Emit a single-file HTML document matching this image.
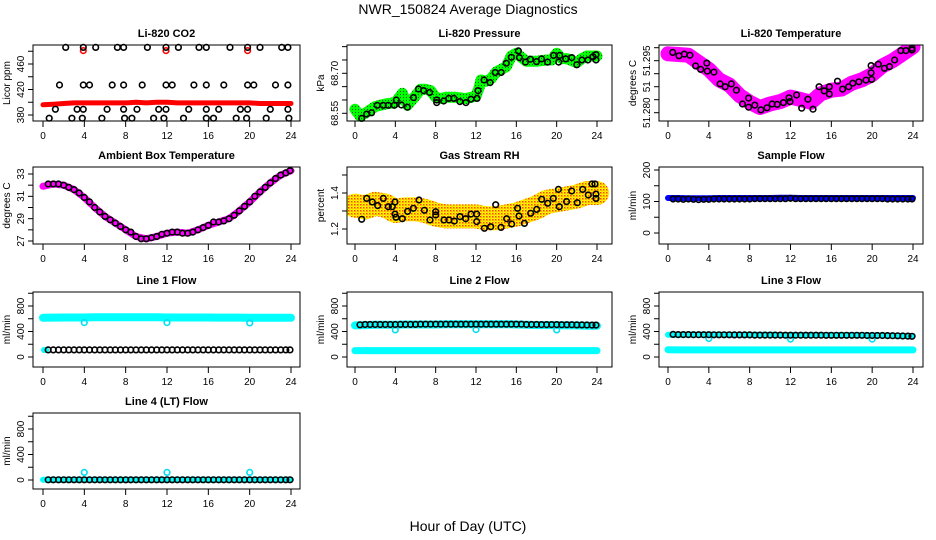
<!DOCTYPE html>
<html><head><meta charset="utf-8"><title>NWR_150824 Average Diagnostics</title>
<style>
html,body{margin:0;padding:0;background:#fff;}
svg{display:block;font-family:"Liberation Sans",sans-serif;}
</style></head>
<body>
<svg id="chart" width="936" height="540" viewBox="0 0 936 540" xmlns="http://www.w3.org/2000/svg">
<defs>
<pattern id="greenPat" width="3" height="3" patternUnits="userSpaceOnUse"><rect width="3" height="3" fill="#00ff00"/><rect x="1" y="1" width="1" height="1" fill="#0a5a0a"/></pattern>
<pattern id="yellowPat" width="3" height="3" patternUnits="userSpaceOnUse"><rect width="3" height="3" fill="#ffff00"/><rect x="0" y="0" width="1.5" height="1.5" fill="#ff4000"/><rect x="1.5" y="1.5" width="1" height="1" fill="#ff9000"/></pattern>
</defs>
<text x="468" y="14" text-anchor="middle" font-size="14">NWR_150824  Average Diagnostics</text>
<text x="468" y="531" text-anchor="middle" font-size="14">Hour of Day (UTC)</text>
</svg>
<script>
// ---------- shared categories ----------
const xTicks = [0,4,8,12,16,20,24];
const hours = [0,1,2,3,4,5,6,7,8,9,10,11,12,13,14,15,16,17,18,19,20,21,22,23,24];
const halfHours = [0.5,1,1.5,2,2.5,3,3.5,4,4.5,5,5.5,6,6.5,7,7.5,8,8.5,9,9.5,10,10.5,11,11.5,12,12.5,13,13.5,14,14.5,15,15.5,16,16.5,17,17.5,18,18.5,19,19.5,20,20.5,21,21.5,22,22.5,23,23.5,23.9];

// ---------- Li-820 CO2 ----------
const co2BlkT = [2.2,3.9,5.1,7.2,7.8,10.1,11.9,13.1,15.1,15.8,18.1,19.8,21.0,23.1,23.7, 1.6,3.9,4.5,6.7,7.8,9.6,11.9,12.5,14.6,15.8,17.5,19.8,20.4,22.5,23.7, 1.2,3.3,3.9,6.2,7.8,9.1,11.2,11.9,14.1,15.8,17.0,19.1,19.8,22.0,23.7, 0.6,2.8,3.8,5.7,7.9,8.6,10.7,11.7,13.6,15.8,16.5,18.7,19.7,21.6,23.8];
const co2BlkV = [486,486,486,486,486,486,486,486,486,486,486,486,486,486,486, 427,427,427,427,427,427,427,427,427,427,427,427,427,427,427, 389,389,389,389,389,389,389,389,389,389,389,389,389,389,389, 375,375,375,375,375,375,375,375,375,375,375,375,375,375,375];
const co2RedV = [396,397,398,399,399,399,399,399,399,400,399,400,400,399,399,399,399,399,399,399,399,398,398,398,398];
const co2OutT = [3.9,11.9,19.8];
const co2OutV = [481,481,481];

// ---------- Li-820 Pressure ----------
const presBandT = [0,0.5,1,2,3,4,4.7,5.2,6,6.5,7,7.5,8,8.5,9,10,11,11.5,12,12.3,12.5,13,13.5,14,15,15.5,16,16.5,17,18,19,19.5,20,20.5,21,22,22.5,23,24];
const presBandV = [68.565,68.54,68.55,68.575,68.585,68.59,68.625,68.58,68.615,68.64,68.64,68.635,68.61,68.605,68.61,68.61,68.605,68.61,68.615,68.645,68.675,68.67,68.68,68.705,68.725,68.765,68.775,68.76,68.745,68.745,68.75,68.75,68.775,68.755,68.755,68.74,68.755,68.765,68.765];
const presBlkT = [0.66,1.16,1.65,2.2,2.8,3.3,3.9,4.1,4.6,5.2,5.8,6.3,6.8,7.4,8.1,8.1,8.8,9.3,9.8,10.4,11.0,11.5,12.1,12.2,12.8,13.4,13.9,14.5,15.0,15.5,16.2,16.3,16.9,17.4,18.0,18.5,19.1,19.7,20.2,20.3,20.9,21.5,22.0,22.5,23.1,23.6,23.9,23.9];
const presBlkV = [68.531,68.547,68.552,68.58,68.58,68.58,68.58,68.60,68.581,68.573,68.609,68.641,68.635,68.628,68.60,68.59,68.596,68.606,68.606,68.594,68.59,68.603,68.606,68.635,68.675,68.665,68.703,68.703,68.738,68.76,68.784,68.759,68.742,68.753,68.744,68.754,68.742,68.767,68.742,68.767,68.754,68.759,68.732,68.75,68.75,68.762,68.770,68.750];

// ---------- Li-820 Temperature ----------
const tempBandV = [51.2970,51.2968,51.2966,51.2945,51.2925,51.2895,51.2880,51.2850,51.2830,51.2815,51.2825,51.2832,51.2845,51.2838,51.2830,51.2855,51.2865,51.2868,51.2885,51.2895,51.2910,51.2935,51.2950,51.2970,51.2990];
const tempBlkT = [0.46,1.08,1.6,2.15,2.7,3.2,3.8,3.85,4.5,5.1,5.6,6.2,6.7,7.3,7.9,7.9,8.5,9.1,9.7,10.2,10.7,11.3,11.85,11.95,12.6,13.1,13.7,14.2,14.8,15.3,15.8,15.8,16.6,17.1,17.7,18.1,18.7,19.4,19.95,19.9,19.9,20.6,21.2,21.7,22.2,22.8,23.3,23.9,23.9];
const tempBlkV = [51.2974,51.2964,51.2969,51.2966,51.2935,51.2925,51.2943,51.2920,51.2917,51.2883,51.2875,51.2883,51.2865,51.2825,51.2842,51.2816,51.2822,51.2808,51.2814,51.2825,51.2824,51.2829,51.2843,51.2832,51.2851,51.2813,51.2839,51.2810,51.2875,51.2863,51.2875,51.2854,51.2891,51.2868,51.2875,51.2885,51.2889,51.2894,51.2896,51.2915,51.2936,51.2940,51.2928,51.2933,51.2952,51.2979,51.2979,51.2986,51.2981];

// ---------- Ambient Box Temperature ----------
const ambBandV = [31.9,32.1,32.0,31.6,30.9,30.0,29.2,28.6,28.0,27.4,27.2,27.4,27.7,27.8,27.7,28.0,28.4,28.7,29.0,29.7,30.5,31.4,32.2,32.9,33.3];
const ambBlkV = [32.1,32.1,32.1,32.0,31.8,31.6,31.3,30.9,30.5,30.0,29.6,29.2,28.9,28.6,28.3,28.0,27.8,27.4,27.2,27.2,27.3,27.4,27.6,27.7,27.8,27.8,27.7,27.7,27.8,28.0,28.2,28.4,28.7,28.7,28.8,29.0,29.3,29.7,30.1,30.5,31.0,31.4,31.8,32.2,32.6,32.9,33.1,33.3];

// ---------- Gas Stream RH ----------
const rhBandV = [1.33,1.32,1.34,1.33,1.30,1.31,1.31,1.30,1.28,1.27,1.27,1.27,1.27,1.26,1.26,1.27,1.28,1.30,1.32,1.35,1.36,1.37,1.38,1.40,1.40];
const rhBlkT = [0.66,1.16,1.72,2.25,2.81,3.3,3.7,3.97,3.97,4.07,4.69,5.22,5.79,6.35,6.88,7.44,8.0,8.0,8.83,9.32,9.85,10.41,10.98,11.5,12.07,12.07,12.83,13.46,13.95,14.48,15.04,15.54,16.13,16.26,16.8,17.42,18.02,18.52,19.11,19.67,20.17,20.26,20.99,21.49,22.05,22.58,23.14,23.5,23.8,23.9,23.9];
const rhBlkV = [1.254,1.370,1.350,1.330,1.370,1.324,1.324,1.350,1.283,1.265,1.257,1.298,1.315,1.361,1.304,1.250,1.296,1.278,1.250,1.250,1.244,1.269,1.257,1.283,1.283,1.241,1.204,1.213,1.335,1.209,1.257,1.228,1.315,1.272,1.231,1.287,1.309,1.365,1.343,1.370,1.420,1.324,1.352,1.411,1.346,1.420,1.389,1.450,1.450,1.370,1.394];

// ---------- Sample Flow ----------
const sampBandV = [111,111,110,110,110,111,111,111,111,111,111,112,112,111,111,111,111,111,111,111,111,111,111,111,111];
const sampBlkV = [108,108,107,108,107,106,107,107,108,108,108,108,108,108,108,108,109,109,109,109,109,109,109,110,109,109,109,109,109,109,109,109,109,109,109,109,109,109,109,109,109,109,108,108,108,108,108,108];

// ---------- Line flows ----------
const l1CyanHiV = [615,618,620,620,620,622,622,622,622,622,622,622,620,620,620,620,620,618,618,618,616,616,615,615,615];
const l1CyanLoT = [0.1,0.3];
const l1CyanLoV = [110,110];
const l1BlkV = [112,112,112,112,112,112,112,112,112,112,112,112,112,112,112,112,112,112,112,112,112,112,112,112,112,112,112,112,112,112,112,112,112,112,112,112,112,112,112,112,112,112,112,112,112,112,112,112];
const l1OutT = [4,12,20];
const l1OutV = [540,540,535];

const l2CyanHiV = [495,500,505,505,505,510,510,510,510,515,515,515,515,515,515,515,510,505,500,500,500,495,495,490,490];
const l2CyanLoV = [100,100,100,100,100,100,100,100,100,100,100,100,100,100,100,100,100,100,100,100,100,100,100,100,100];
const l2BlkV = [505,510,510,510,510,510,510,510,512,512,512,512,514,514,514,514,514,514,514,514,514,514,514,515,514,514,514,514,514,514,514,514,514,510,510,510,508,508,508,508,506,506,506,504,504,502,500,500];
const l2OutT = [4,12,20];
const l2OutV = [425,430,425];

const l3CyanHiV = [350,350,352,352,352,352,350,350,350,348,348,345,345,345,345,345,345,345,345,342,340,338,335,330,330];
const l3CyanLoV = [115,112,112,112,112,112,112,112,112,112,112,112,112,112,112,112,112,112,112,112,112,112,112,112,112];
const l3BlkV = [355,352,352,352,350,350,350,350,348,348,348,348,346,346,346,346,344,344,344,344,344,344,342,342,342,342,342,342,342,342,340,340,340,340,340,340,340,340,338,338,338,338,336,334,332,330,328,325];
const l3OutT = [4,12,20];
const l3OutV = [290,280,280];

const l4CyanV = [5,5,5,5,5,5,5,5,5,5,5,5,5,5,5,5,5,5,5,5,5,5,5,5,5];
const l4BlkV = [3,3,3,3,3,3,3,3,3,3,3,3,3,3,3,3,3,3,3,3,3,3,3,3,3,3,3,3,3,3,3,3,3,3,3,3,3,3,3,3,3,3,3,3,3,3,3,3];
const l4OutT = [4,12,20];
const l4OutV = [120,120,120];

// ---------- tick values ----------
const co2Ticks = [380,400,420,440,460,480];
const co2Labels = ["380","","420","","460",""];
const presTicks = [68.55,68.60,68.65,68.70,68.75,68.80];
const presLabels = ["68.55","","","68.70","",""];
const tempTicks = [51.280,51.28375,51.2875,51.29125,51.295,51.29875];
const tempLabels = ["51.280","","51","","51.295",""];
const ambTicks = [27,28,29,30,31,32,33];
const ambLabels = ["27","","29","","31","","33"];
const rhTicks = [1.2,1.3,1.4,1.5];
const rhLabels = ["1.2","","1.4",""];
const sampTicks = [0,50,100,150,200];
const sampLabels = ["0","","100","","200"];
const flowTicks = [0,200,400,600,800,1000];
const flowLabels = ["0","","400","","800",""];

// ---------- layout ----------
const SVGNS = "http://www.w3.org/2000/svg";
const svg = document.getElementById('chart');
const cols = [{bl:33,br:300,x0:43,x24:291},{bl:347,br:612,x0:355,x24:597},{bl:659,br:923,x0:668,x24:913}];
const rows = [{bt:45,bb:121},{bt:167,bb:244},{bt:292,bb:367},{bt:413,bb:489}];

function mk(tag, parent){ const e=document.createElementNS(SVGNS,tag); parent.appendChild(e); return e; }
function pts(ts,vs,sx,sy){ return ts.map((t,i)=>sx(t).toFixed(1)+','+sy(vs[i]).toFixed(1)).join(' '); }

function band(g,ts,vs,sx,sy,color,w,name){
  const p=mk('polyline',g);
  
  
  p.setAttribute('points',pts(ts,vs,sx,sy));
  p.setAttribute('fill','none'); p.setAttribute('stroke',color);
  p.setAttribute('stroke-width',w); p.setAttribute('stroke-linecap','round'); p.setAttribute('stroke-linejoin','round');
}
function circles(g,ts,vs,sx,sy,color,name){
  ts.forEach((t,i)=>{
    const c=mk('circle',g);
    
    
    c.setAttribute('cx',sx(t).toFixed(1)); c.setAttribute('cy',sy(vs[i]).toFixed(1));
    c.setAttribute('r',2.8); c.setAttribute('fill','none'); c.setAttribute('stroke',color); c.setAttribute('stroke-width',1.6);
  });
}

let pid=0;
function panel(name,ci,ri,title,ylab,v0,p0,v1,p1,ticks,labels,drawBands,drawPoints){
  const C=cols[ci], R=rows[ri];
  const sx=t=>C.x0+(C.x24-C.x0)*t/24;
  const sy=v=>p0+(p1-p0)*(v-v0)/(v1-v0);
  const g=mk('g',svg);
  
  
  const clipId='clip'+(pid++);
  const cp=mk('clipPath',g); cp.setAttribute('id',clipId);
  const cr=mk('rect',cp); cr.setAttribute('x',C.bl); cr.setAttribute('y',R.bt); cr.setAttribute('width',C.br-C.bl); cr.setAttribute('height',R.bb-R.bt);
  const tt=mk('text',g);
  
  
  tt.setAttribute('x',(C.bl+C.br)/2); tt.setAttribute('y',R.bt-8); tt.setAttribute('text-anchor','middle');
  tt.setAttribute('font-size','11'); tt.setAttribute('font-weight','bold'); tt.textContent=title;
  const yl=mk('text',g);
  
  
  const ym=(R.bt+R.bb)/2;
  yl.setAttribute('transform','translate('+(C.bl-23)+','+ym+') rotate(-90)'); yl.setAttribute('text-anchor','middle');
  yl.setAttribute('font-size','10'); yl.textContent=ylab;
  const data=mk('g',g); data.setAttribute('clip-path','url(#'+clipId+')');
  
  
  drawBands(data,sx,sy);
  const pg=mk('g',g);
  
  
  drawPoints(pg,sx,sy);
  const box=mk('rect',g);
  
  
  box.setAttribute('x',C.bl); box.setAttribute('y',R.bt); box.setAttribute('width',C.br-C.bl); box.setAttribute('height',R.bb-R.bt);
  box.setAttribute('fill','none'); box.setAttribute('stroke','#000'); box.setAttribute('stroke-width',1);
  ticks.forEach((v,i)=>{
    const y=sy(v); if(y<R.bt-1||y>R.bb+1) return;
    const l=mk('line',g);
    
    
    l.setAttribute('x1',C.bl-5); l.setAttribute('x2',C.bl); l.setAttribute('y1',y); l.setAttribute('y2',y); l.setAttribute('stroke','#000');
    if(labels[i]){
      const t=mk('text',g);
      
      
      t.setAttribute('transform','translate('+(C.bl-9)+','+y+') rotate(-90)'); t.setAttribute('text-anchor','middle');
      t.setAttribute('font-size','10'); t.textContent=labels[i];
    }
  });
  xTicks.forEach(v=>{
    const x=sx(v);
    const l=mk('line',g);
    
    
    l.setAttribute('x1',x); l.setAttribute('x2',x); l.setAttribute('y1',R.bb); l.setAttribute('y2',R.bb+6); l.setAttribute('stroke','#000');
    const t=mk('text',g);
    
    
    t.setAttribute('x',x); t.setAttribute('y',R.bb+18); t.setAttribute('text-anchor','middle'); t.setAttribute('font-size','10');
    t.textContent=String(v);
  });
}

panel('co2-panel',0,0,'Li-820 CO2','Licor ppm',380,115,460,64,co2Ticks,co2Labels,(g,sx,sy)=>{
  band(g,hours,co2RedV,sx,sy,'#ff0000',5,'co2-red-band');
},(g,sx,sy)=>{
  circles(g,co2OutT,co2OutV,sx,sy,'#ff0000','co2-red-outlier');
  circles(g,co2BlkT,co2BlkV,sx,sy,'#000','co2-black-point');
});
panel('pressure-panel',1,0,'Li-820 Pressure','kPa',68.55,113.3,68.70,73.3,presTicks,presLabels,(g,sx,sy)=>{
  band(g,presBandT,presBandV,sx,sy,'url(#greenPat)',11,'pressure-green-band');
},(g,sx,sy)=>{
  circles(g,presBlkT,presBlkV,sx,sy,'#000','pressure-black-point');
});
panel('temperature-panel',2,0,'Li-820 Temperature','degrees C',51.280,112.7,51.295,60.7,tempTicks,tempLabels,(g,sx,sy)=>{
  band(g,hours,tempBandV,sx,sy,'#ff00ff',15,'temperature-magenta-band');
},(g,sx,sy)=>{
  circles(g,tempBlkT,tempBlkV,sx,sy,'#000','temperature-black-point');
});
panel('ambient-panel',0,1,'Ambient Box Temperature','degrees C',27,241,33,174,ambTicks,ambLabels,(g,sx,sy)=>{
  band(g,hours,ambBandV,sx,sy,'#ff00ff',7,'ambient-magenta-band');
},(g,sx,sy)=>{
  circles(g,halfHours,ambBlkV,sx,sy,'#000','ambient-black-point');
});
panel('rh-panel',1,1,'Gas Stream RH','percent',1.2,229,1.4,193,rhTicks,rhLabels,(g,sx,sy)=>{
  band(g,hours,rhBandV,sx,sy,'url(#yellowPat)',24,'rh-yellow-band');
},(g,sx,sy)=>{
  circles(g,rhBlkT,rhBlkV,sx,sy,'#000','rh-black-point');
});
panel('sample-flow-panel',2,1,'Sample Flow','ml/min',0,233,200,170,sampTicks,sampLabels,(g,sx,sy)=>{
  band(g,hours,sampBandV,sx,sy,'#0000ff',6,'sample-blue-band');
},(g,sx,sy)=>{
  circles(g,halfHours,sampBlkV,sx,sy,'#000','sample-black-point');
});
panel('line1-flow-panel',0,2,'Line 1 Flow','ml/min',0,357,800,306,flowTicks,flowLabels,(g,sx,sy)=>{
  band(g,hours,l1CyanHiV,sx,sy,'#00ffff',8,'line1-cyan-band');
  band(g,l1CyanLoT,l1CyanLoV,sx,sy,'#00ffff',6,'line1-cyan-low');
},(g,sx,sy)=>{
  circles(g,l1OutT,l1OutV,sx,sy,'#00e0f0','line1-cyan-outlier');
  circles(g,halfHours,l1BlkV,sx,sy,'#000','line1-black-point');
});
panel('line2-flow-panel',1,2,'Line 2 Flow','ml/min',0,357,800,306,flowTicks,flowLabels,(g,sx,sy)=>{
  band(g,hours,l2CyanHiV,sx,sy,'#00ffff',8,'line2-cyan-band');
  band(g,hours,l2CyanLoV,sx,sy,'#00ffff',7,'line2-cyan-low-band');
},(g,sx,sy)=>{
  circles(g,l2OutT,l2OutV,sx,sy,'#00e0f0','line2-cyan-outlier');
  circles(g,halfHours,l2BlkV,sx,sy,'#000','line2-black-point');
});
panel('line3-flow-panel',2,2,'Line 3 Flow','ml/min',0,357,800,306,flowTicks,flowLabels,(g,sx,sy)=>{
  band(g,hours,l3CyanHiV,sx,sy,'#00ffff',6,'line3-cyan-band');
  band(g,hours,l3CyanLoV,sx,sy,'#00ffff',7,'line3-cyan-low-band');
},(g,sx,sy)=>{
  circles(g,l3OutT,l3OutV,sx,sy,'#00e0f0','line3-cyan-outlier');
  circles(g,halfHours,l3BlkV,sx,sy,'#000','line3-black-point');
});
panel('line4-flow-panel',0,3,'Line 4 (LT) Flow','ml/min',0,480,800,429,flowTicks,flowLabels,(g,sx,sy)=>{
  band(g,hours,l4CyanV,sx,sy,'#00ffff',6,'line4-cyan-band');
},(g,sx,sy)=>{
  circles(g,l4OutT,l4OutV,sx,sy,'#00e0f0','line4-cyan-outlier');
  circles(g,halfHours,l4BlkV,sx,sy,'#000','line4-black-point');
});
</script>
</body></html>
